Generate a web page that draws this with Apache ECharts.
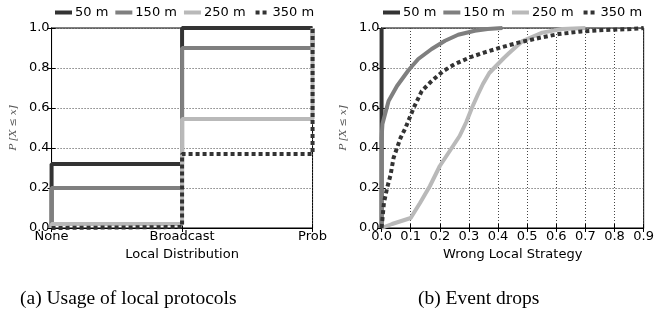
<!DOCTYPE html>
<html>
<head>
<meta charset="utf-8">
<script src="https://cdn.jsdelivr.net/npm/echarts@6/dist/echarts.min.js"></script>
<style>
  html, body { margin: 0; padding: 0; background: #fff; }
  #wrap { position: relative; width: 657px; height: 316px; overflow: hidden; }
  #left { position: absolute; left: 0; top: 0; width: 330px; height: 316px; }
  #right { position: absolute; left: 330px; top: 0; width: 327px; height: 316px; }
</style>
</head>
<body>
<div id="wrap">
  <div id="left"></div>
  <div id="right"></div>
</div>
<script>
// legend names and colours
const seriesNames = ['50 m', '150 m', '250 m', '350 m'];
const seriesColors = ['#333333', '#7f7f7f', '#b9b9b9', '#333333'];

// (a) usage of local protocols, CDF per category
const categories = ['None', 'Broadcast', 'Prob'];
const usage50 = [0.32, 1.0, 1.0];
const usage150 = [0.20, 0.90, 1.0];
const usage250 = [0.02, 0.545, 1.0];
const usage350 = [0.005, 0.37, 1.0];

// (b) event drops, CDF of wrong local strategy
const drops50X = [0, 0];
const drops50Y = [0, 1.0];
const drops150X = [0, 0, 0.003, 0.024, 0.053, 0.093, 0.126, 0.172, 0.218, 0.263, 0.32, 0.364, 0.415];
const drops150Y = [0, 0.45, 0.52, 0.635, 0.71, 0.79, 0.845, 0.895, 0.936, 0.966, 0.986, 0.995, 1.0];
const drops250X = [0, 0.036, 0.1, 0.132, 0.166, 0.2, 0.234, 0.268, 0.291, 0.31, 0.33, 0.348, 0.37, 0.393, 0.42, 0.439, 0.484, 0.552, 0.62, 0.70];
const drops250Y = [0, 0.02, 0.05, 0.125, 0.21, 0.31, 0.385, 0.46, 0.53, 0.6, 0.665, 0.72, 0.775, 0.81, 0.85, 0.876, 0.935, 0.977, 0.995, 1.0];
const drops350X = [0, 0.008, 0.019, 0.031, 0.041, 0.053, 0.065, 0.082, 0.11, 0.138, 0.172, 0.212, 0.252, 0.303, 0.354, 0.41, 0.473, 0.54, 0.609, 0.687, 0.767, 0.857, 0.9];
const drops350Y = [0, 0.125, 0.2, 0.266, 0.35, 0.40, 0.45, 0.50, 0.60, 0.685, 0.735, 0.785, 0.82, 0.853, 0.878, 0.903, 0.928, 0.95, 0.97, 0.983, 0.99, 0.995, 1.0];

const font = 'DejaVu Sans';
const dotted = [4, 3];

// legend icons: solid bar, or two square dots for the dotted series
const solidIcon = 'path://M0,0h17v4h-17z';
const dotIcon = 'path://M0,0L0,0M3,0h4v4h-4zM10,0h4v4h-4zM17,4L17,4';

function lineSeries(i, data, step) {
  return {
    name: seriesNames[i],
    type: 'line',
    data: data,
    step: step,
    showSymbol: false,
    symbol: 'none',
    silent: true,
    lineStyle: {
      color: seriesColors[i],
      width: 4,
      type: i === 3 ? dotted : 'solid',
      cap: 'butt'
    },
    itemStyle: { color: seriesColors[i] }
  };
}

function zip(xs, ys) {
  return xs.map((x, k) => [x, ys[k]]);
}

function baseOption(legendLeft, gridLeft, gridRight, caption, captionLeft) {
  return {
    animation: false,
    textStyle: { fontFamily: font },
    legend: {
      data: seriesNames.map((n, i) => ({ name: n, icon: i === 3 ? dotIcon : solidIcon })),
      left: legendLeft,
      top: 6,
      width: 320,
      padding: 0,
      itemWidth: 17,
      itemHeight: 4,
      itemGap: 7,
      textStyle: { fontSize: 13, color: '#000', fontFamily: font, padding: [0, 0, 0, -2] }
    },
    title: {
      text: caption,
      left: captionLeft,
      top: 289,
      padding: 0,
      textStyle: { fontFamily: 'Liberation Serif', fontSize: 19.5, fontWeight: 'normal', color: '#000' }
    },
    grid: {
      left: gridLeft, right: gridRight, top: 28, bottom: 88,
      show: true, borderColor: '#000', borderWidth: 1, backgroundColor: '#fff'
    }
  };
}

function yAxes() {
  const common = {
    type: 'value', min: 0, max: 1, interval: 0.2,
    axisLine: { show: true, lineStyle: { color: '#000', width: 1 } },
    axisTick: { show: true, inside: true, length: 4, lineStyle: { color: '#000' } }
  };
  return [
    Object.assign({}, common, {
      position: 'left',
      name: 'P [X ≤ x]',
      nameLocation: 'middle',
      nameRotate: 90,
      nameGap: 30,
      nameTextStyle: { fontFamily: 'DejaVu Serif', fontStyle: 'italic', fontSize: 10, color: '#555' },
      axisLabel: { fontSize: 13, color: '#000', margin: 2, formatter: v => v.toFixed(1) },
      splitLine: { show: true, lineStyle: { color: '#444', type: [1, 2], width: 1 } }
    }),
    Object.assign({}, common, {
      position: 'right',
      axisLabel: { show: false },
      splitLine: { show: false }
    })
  ];
}

// ---- (a) ----
const leftChart = echarts.init(document.getElementById('left'));
const leftOpt = baseOption(55, 50, 14, '(a) Usage of local protocols', 20);
const xCommonA = {
  type: 'value', min: 0, max: categories.length - 1, interval: 1,
  axisLine: { show: true, lineStyle: { color: '#000', width: 1 } },
  axisTick: { show: true, inside: true, length: 4, lineStyle: { color: '#000' } }
};
leftOpt.xAxis = [
  Object.assign({}, xCommonA, {
    position: 'bottom',
    name: 'Local Distribution',
    nameLocation: 'middle',
    nameGap: 20,
    nameTextStyle: { fontSize: 13, color: '#000' },
    axisLabel: { fontSize: 13, color: '#000', margin: 2, showMaxLabel: true, formatter: v => categories[v] },
    splitLine: { show: true, lineStyle: { color: '#444', type: [1, 2], width: 1 } }
  }),
  Object.assign({}, xCommonA, { position: 'top', axisLabel: { show: false }, splitLine: { show: false } })
];
leftOpt.yAxis = yAxes();
const usage = [usage50, usage150, usage250, usage350];
leftOpt.series = usage.map((vals, i) =>
  lineSeries(i, [[0, 0]].concat(vals.map((v, k) => [k, v])), 'end')
);
leftChart.setOption(leftOpt);

// ---- (b) ----
const rightChart = echarts.init(document.getElementById('right'));
const rightOpt = baseOption(53, 51, 11, '(b) Event drops', 88);
const xCommonB = {
  type: 'value', min: 0, max: 0.9, interval: 0.1,
  axisLine: { show: true, lineStyle: { color: '#000', width: 1 } },
  axisTick: { show: true, inside: true, length: 4, lineStyle: { color: '#000' } }
};
rightOpt.xAxis = [
  Object.assign({}, xCommonB, {
    position: 'bottom',
    name: 'Wrong Local Strategy',
    nameLocation: 'middle',
    nameGap: 20,
    nameTextStyle: { fontSize: 13, color: '#000' },
    axisLabel: { fontSize: 13, color: '#000', margin: 2, showMaxLabel: true, formatter: v => v.toFixed(1) },
    splitLine: { show: true, lineStyle: { color: '#444', type: [1, 2], width: 1 } }
  }),
  Object.assign({}, xCommonB, { position: 'top', axisLabel: { show: false }, splitLine: { show: false } })
];
rightOpt.yAxis = yAxes();
const drops = [
  zip(drops50X, drops50Y),
  zip(drops150X, drops150Y),
  zip(drops250X, drops250Y),
  zip(drops350X, drops350Y)
];
rightOpt.series = drops.map((d, i) => lineSeries(i, d, false));
rightChart.setOption(rightOpt);
</script>
</body>
</html>
